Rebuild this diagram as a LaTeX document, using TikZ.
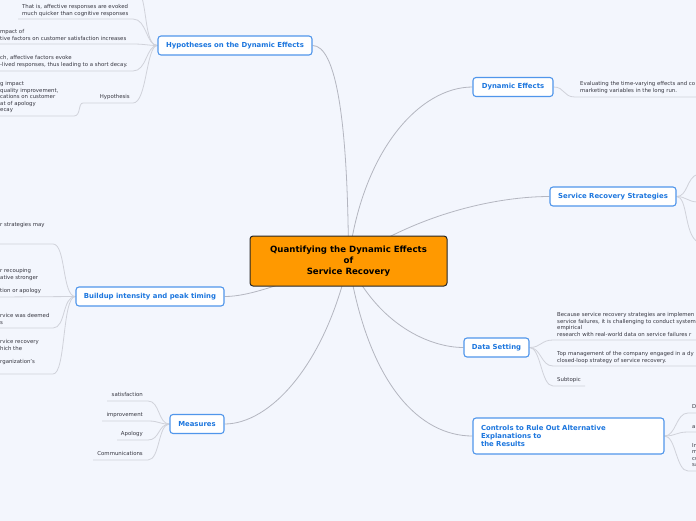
\documentclass[tikz,border=0pt]{standalone}
\usepackage{fontspec}
\setmainfont{DejaVu Sans}
\usetikzlibrary{backgrounds}
\definecolor{bg}{RGB}{243,246,253}
\definecolor{tblue}{RGB}{28,118,222}
\definecolor{tborder}{RGB}{80,150,235}
\definecolor{conn}{RGB}{180,182,192}
\definecolor{leafline}{RGB}{208,210,218}
\definecolor{leaftext}{RGB}{55,55,65}
\definecolor{rootorange}{RGB}{255,153,0}
\begin{document}
\begin{tikzpicture}[x=1pt,y=-1pt,
 topic/.style={draw=tborder, line width=1.1pt, fill=white, rounded corners=3pt, text=tblue,
   font=\fontsize{6.9}{8}\selectfont\bfseries, inner sep=0pt, minimum height=19pt},
 leaf/.style={text=leaftext, font=\fontsize{5.4}{6.5}\selectfont, inner sep=0pt, align=left},
 branch/.style={draw=conn, line width=0.8pt},
 twig/.style={draw=leafline, line width=0.8pt}]
\useasboundingbox (0,0) rectangle (696,520);
\clip (0,0) rectangle (696,520);

% root and topics
\node[draw=black!85, line width=1pt, fill=rootorange, rounded corners=3pt, minimum width=197pt,
  minimum height=50pt, font=\fontsize{8.6}{11}\selectfont\bfseries, align=center, inner sep=0pt]
  (root) at (348.5,261) {Quantifying the Dynamic Effects\\of\\Service Recovery};
\node[topic, minimum width=154pt] (hyp) at (235,45.5) {Hypotheses on the Dynamic Effects};
\node[topic, minimum width=80pt] (dyn) at (513,87) {Dynamic Effects};
\node[topic, minimum width=126pt] (srs) at (613,196.5) {Service Recovery Strategies};
\node[topic, minimum width=65pt] (data) at (496.5,347.5) {Data Setting};
\node[topic, minimum width=191pt, minimum height=36pt, text width=175pt, align=left,
  font=\fontsize{6.9}{8.4}\selectfont\bfseries] (ctrl) at (568.5,436)
  {Controls to Rule Out Alternative\\Explanations to\\the Results};
\node[topic, minimum width=148pt] (build) at (150,296.5) {Buildup intensity and peak timing};
\node[topic, minimum width=54pt] (meas) at (197,424) {Measures};

% leaves of hypotheses
\node[leaf, anchor=north west] (h1) at (22,4.2) {That is, affective responses are evoked\\much quicker than cognitive responses};
\node[leaf, anchor=north west] (h2) at (0,29.2) {mpact of\\tive factors on customer satisfaction increases};
\node[leaf, anchor=north west] (h3) at (0,55.2) {ch, affective factors evoke\\-lived responses, thus leading to a short decay.};
\node[leaf, anchor=north east] (h4) at (130,94.2) {Hypothesis};
\node[leaf, anchor=north west] (h5) at (0,81.2) {g impact\\quality improvement,\\cations on customer\\at of apology\\ecay};
% leaves of buildup
\node[leaf, anchor=north west] (b1) at (0,222.2) {r strategies may};
\node[leaf, anchor=north west] (b2) at (0,268.2) {r recouping\\ative stronger\\\mbox{}\\tion or apology};
\node[leaf, anchor=north west] (b3) at (0,313.2) {rvice was deemed\\s};
\node[leaf, anchor=north west] (b4) at (0,339.2) {rvice recovery\\hich the\\\mbox{}\\rganization's};
% leaves of measures
\node[leaf, anchor=north east] (m1) at (143,392.2) {satisfaction};
\node[leaf, anchor=north east] (m2) at (143,412.2) {improvement};
\node[leaf, anchor=north east] (m3) at (143,431.2) {Apology};
\node[leaf, anchor=north east] (m4) at (143,451.2) {Communications};
% right leaves
\node[leaf, anchor=north west] (e1) at (580,81.2) {Evaluating the time-varying effects and co\\marketing variables in the long run.};
\node[leaf, anchor=north west] (d1) at (557,312.2) {Because service recovery strategies are implemen\\service failures, it is challenging to conduct system\\empirical\\research with real-world data on service failures r};
\node[leaf, anchor=north west] (d2) at (557,351.2) {Top management of the company engaged in a dy\\closed-loop strategy of service recovery.};
\node[leaf, anchor=north west] (d3) at (557,377.2) {Subtopic};
\node[leaf, anchor=north west] (c1) at (692,404.2) {D};
\node[leaf, anchor=north west] (c2) at (692,424.2) {al};
\node[leaf, anchor=north west] (c3) at (692,443.2) {In\\m\\cu\\sa};

% underline coordinates
\coordinate (h1e) at (133,19);  \coordinate (h1s) at (18,19);
\coordinate (h2e) at (133,44);  \coordinate (h2s) at (-2,44);
\coordinate (h3e) at (133,71);  \coordinate (h3s) at (-2,71);
\coordinate (h4e) at (133,103); \coordinate (h4s) at (83,103);
\coordinate (h5e) at (74,116);  \coordinate (h5s) at (-2,116);
\coordinate (h0) at (142,-2);
\coordinate (b1e) at (53,244);  \coordinate (b1s) at (-2,244);
\coordinate (b2s) at (-2,297);
\coordinate (b3e) at (53,328);  \coordinate (b3s) at (-2,328);
\coordinate (b4e) at (53,374);  \coordinate (b4s) at (-2,374);
\coordinate (m1e) at (148,401); \coordinate (m1s) at (107,401);
\coordinate (m2e) at (148,421); \coordinate (m2s) at (102,421);
\coordinate (m3e) at (148,440); \coordinate (m3s) at (117,440);
\coordinate (m4e) at (148,460); \coordinate (m4s) at (93,460);
\coordinate (e1e) at (575,97);  \coordinate (e1s) at (698,97);
\coordinate (s1) at (698,174);  \coordinate (s2) at (698,202); \coordinate (s3) at (698,242);
\coordinate (d1e) at (553,340); \coordinate (d1s) at (698,340);
\coordinate (d2e) at (553,366); \coordinate (d2s) at (698,366);
\coordinate (d3e) at (553,386); \coordinate (d3s) at (585,386);
\coordinate (c1e) at (688,413); \coordinate (c1s) at (698,413);
\coordinate (c2e) at (688,432); \coordinate (c2s) at (698,432);
\coordinate (c3e) at (688,471); \coordinate (c3s) at (698,471);

\begin{scope}[on background layer]
\fill[bg] (-5,-5) rectangle (701,525);
% main branches
\draw[branch] (root.center) .. controls (348,120) and (336,45.5) .. (hyp.east);
\draw[branch] (root.center) .. controls (362,150) and (420,87) .. (dyn.west);
\draw[branch] (root.center) .. controls (420,212) and (500,196.5) .. (srs.west);
\draw[branch] (root.center) .. controls (378,325) and (430,347.5) .. (data.west);
\draw[branch] (root.center) .. controls (368,385) and (420,436) .. (ctrl.west);
\draw[branch] (root.center) .. controls (325,365) and (270,424) .. (meas.east);
\draw[branch] (root.center) .. controls (280,284) and (250,296.5) .. (build.east);
% hypotheses twigs
\draw[twig] (hyp.west) .. controls (146,45.5) and (147,19) .. (h1e) -- (h1s);
\draw[twig] (hyp.west) .. controls (148,45.5) and (145,44) .. (h2e) -- (h2s);
\draw[twig] (hyp.west) .. controls (146,45.5) and (147,71) .. (h3e) -- (h3s);
\draw[twig] (hyp.west) .. controls (146,45.5) and (147,103) .. (h4e) -- (h4s);
\draw[twig] (h4s) .. controls (78,103) and (81,116) .. (h5e) -- (h5s);
\draw[twig] (hyp.west) .. controls (146,45.5) and (147,15) .. (h0);
% buildup twigs
\draw[twig] (build.west) .. controls (62,296.5) and (66,244) .. (b1e) -- (b1s);
\draw[twig] (build.west) -- (b2s);
\draw[twig] (build.west) .. controls (62,296.5) and (66,328) .. (b3e) -- (b3s);
\draw[twig] (build.west) .. controls (62,296.5) and (66,374) .. (b4e) -- (b4s);
% measures twigs
\draw[twig] (meas.west) .. controls (158,424) and (160,401) .. (m1e) -- (m1s);
\draw[twig] (meas.west) .. controls (158,424) and (160,421) .. (m2e) -- (m2s);
\draw[twig] (meas.west) .. controls (158,424) and (160,440) .. (m3e) -- (m3s);
\draw[twig] (meas.west) .. controls (158,424) and (160,460) .. (m4e) -- (m4s);
% right twigs
\draw[twig] (dyn.east) .. controls (565,87) and (563,97) .. (e1e) -- (e1s);
\draw[twig] (srs.east) .. controls (688,196.5) and (686,178) .. (s1);
\draw[twig] (srs.east) .. controls (686,196.5) and (688,202) .. (s2);
\draw[twig] (srs.east) .. controls (688,196.5) and (684,235) .. (s3);
\draw[twig] (data.east) .. controls (541,347.5) and (541,340) .. (d1e) -- (d1s);
\draw[twig] (data.east) .. controls (541,347.5) and (541,366) .. (d2e) -- (d2s);
\draw[twig] (data.east) .. controls (541,347.5) and (541,386) .. (d3e) -- (d3s);
\draw[twig] (ctrl.east) .. controls (676,436) and (676,413) .. (c1e) -- (c1s);
\draw[twig] (ctrl.east) .. controls (676,436) and (676,432) .. (c2e) -- (c2s);
\draw[twig] (ctrl.east) .. controls (676,436) and (676,471) .. (c3e) -- (c3s);
\end{scope}
\end{tikzpicture}
\end{document}
